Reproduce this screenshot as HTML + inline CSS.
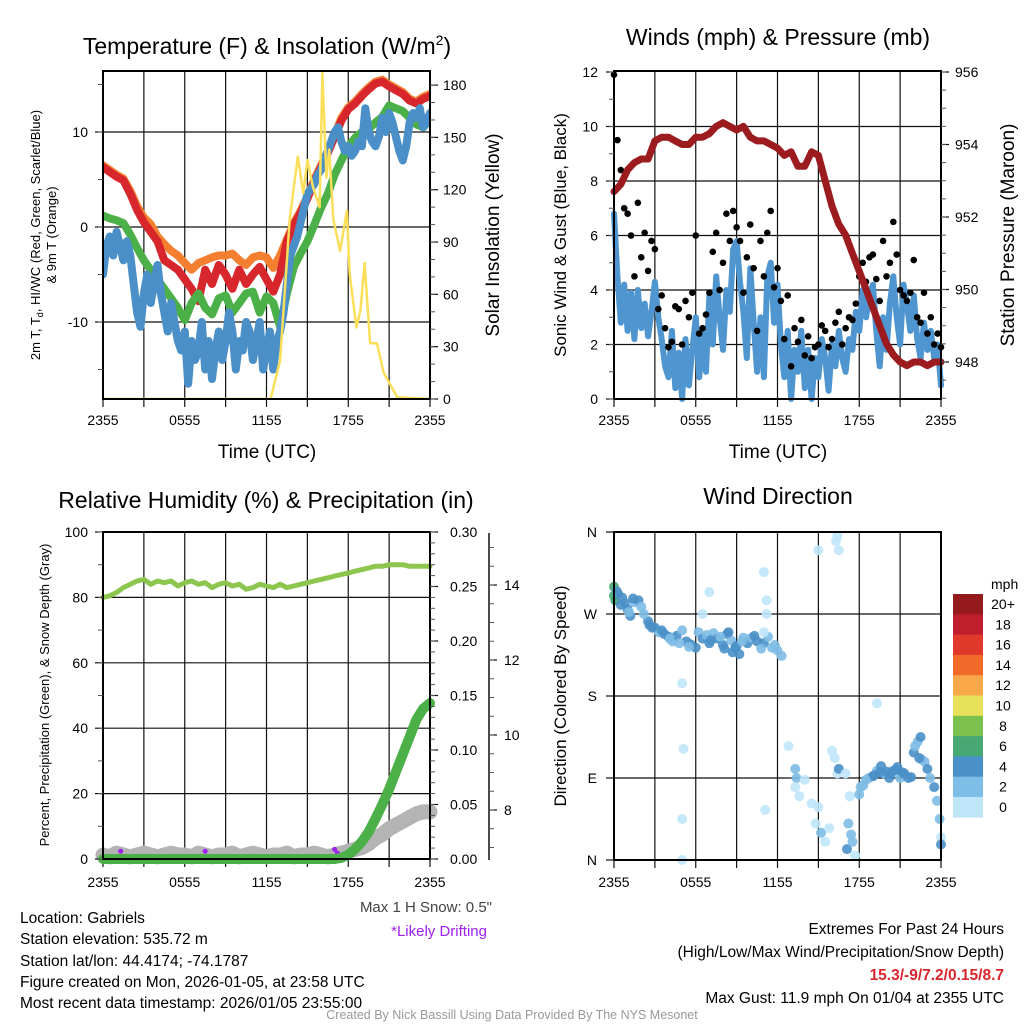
<!DOCTYPE html>
<html><head><meta charset="utf-8"><style>
html,body{margin:0;padding:0;background:#fff;}
svg{display:block;font-family:"Liberation Sans",Arial,sans-serif;}
</style></head><body>
<svg id="chart" width="1024" height="1024" viewBox="0 0 1024 1024">
<rect x="0" y="0" width="1024" height="1024" fill="#fff"/>
<text x="267" y="54" font-size="23" text-anchor="middle">Temperature (F) &amp; Insolation (W/m<tspan dy="-9" font-size="14">2</tspan><tspan dy="9">)</tspan></text>
<text x="778" y="45" font-size="23" text-anchor="middle">Winds (mph) &amp; Pressure (mb)</text>
<text x="266" y="508" font-size="23" text-anchor="middle">Relative Humidity (%) &amp; Precipitation (in)</text>
<text x="778" y="504" font-size="23" text-anchor="middle">Wind Direction</text>
<text x="267" y="458" font-size="19" text-anchor="middle">Time (UTC)</text>
<text x="778" y="458" font-size="19" text-anchor="middle">Time (UTC)</text>
<text transform="translate(40,235) rotate(-90)" font-size="13" text-anchor="middle">2m T, T<tspan dy="3" font-size="9">d</tspan><tspan dy="-3">, HI/WC (Red, Green, Scarlet/Blue)</tspan></text>
<text transform="translate(56,235) rotate(-90)" font-size="13" text-anchor="middle">&amp; 9m T (Orange)</text>
<text transform="translate(499,235) rotate(-90)" font-size="19" text-anchor="middle">Solar Insolation (Yellow)</text>
<text transform="translate(566,235) rotate(-90)" font-size="17" text-anchor="middle">Sonic Wind &amp; Gust (Blue, Black)</text>
<text transform="translate(1014,235) rotate(-90)" font-size="19" text-anchor="middle">Station Pressure (Maroon)</text>
<text transform="translate(49,695) rotate(-90)" font-size="13" text-anchor="middle">Percent, Precipitation (Green), &amp; Snow Depth (Gray)</text>
<text transform="translate(566,696) rotate(-90)" font-size="17" text-anchor="middle">Direction (Colored By Speed)</text>
<text x="492" y="912" font-size="15" fill="#444" text-anchor="end">Max 1 H Snow: 0.5"</text>
<text x="487" y="936" font-size="15" fill="#a020f0" text-anchor="end">*Likely Drifting</text>
<g font-size="15.5">
<text x="20" y="923">Location: Gabriels</text>
<text x="20" y="944">Station elevation: 535.72 m</text>
<text x="20" y="966">Station lat/lon: 44.4174; -74.1787</text>
<text x="20" y="987">Figure created on Mon, 2026-01-05, at 23:58 UTC</text>
<text x="20" y="1008">Most recent data timestamp: 2026/01/05 23:55:00</text>
</g>
<g font-size="15.5" text-anchor="end">
<text x="1004" y="934">Extremes For Past 24 Hours</text>
<text x="1004" y="957">(High/Low/Max Wind/Precipitation/Snow Depth)</text>
<text x="1004" y="980" fill="#d7262c" font-weight="bold">15.3/-9/7.2/0.15/8.7</text>
<text x="1004" y="1003">Max Gust: 11.9 mph On 01/04 at 2355 UTC</text>
</g>
<text x="512" y="1019" font-size="12.5" fill="#999" text-anchor="middle">Created By Nick Bassill Using Data Provided By The NYS Mesonet</text>
</svg>
<script>
// ---------- data ----------
const xTickLabels = ["2355","0555","1155","1755","2355"];
const tempRed = [6.3,5.8,5.3,4.9,3.5,1.8,0.5,-0.5,-1.5,-3.5,-4.0,-4.5,-5.5,-6.5,-7.8,-4.5,-6,-4,-5,-6.5,-4.5,-6,-5,-4.2,-5.5,-6.8,-5,-1.5,0.2,1.5,3,4.8,6.3,7.8,9.5,11.2,12.4,13,13.8,14.5,15.1,15.3,14.8,14.4,14,13.3,13.0,13.5,13.8];
const temp9m = [6.5,6.0,5.5,5.1,3.8,2.2,1.0,0.3,-1.0,-1.8,-2.5,-3.0,-3.8,-4.5,-3.8,-3.5,-3.2,-3.0,-3.0,-2.8,-3.5,-4.0,-3.2,-3.0,-3.2,-4.3,-3.0,-1.3,0.4,1.7,3.2,5.0,6.5,8.0,9.7,11.5,12.6,13.2,14.0,14.7,15.3,15.5,15.0,14.6,14.2,13.5,13.2,13.7,14.0];
const dewpoint = [1.2,0.9,0.7,0.4,-0.8,-2.2,-3.5,-4.5,-5.5,-6.5,-7.5,-8.5,-9.8,-8,-7,-8.5,-9.2,-7.5,-7.2,-9,-8,-7,-6.8,-9,-7.3,-8,-10.5,-7,-4.2,-2.8,-1.5,0.2,2.0,3.5,5.5,7.0,8.5,9.4,10.0,10.3,11.0,11.6,12.8,12.5,12.2,11.5,10.8,10.5,11.3];
const windChill = [-5,-2,-1,-3,-0.5,-2,-3.5,-1.5,-3,-6,-9,-10.5,-7,-5,-8,-6,-4,-7,-9,-11,-8,-10,-12,-13,-11,-16.5,-12,-14,-13,-10,-15,-12,-16,-13,-11,-14,-12,-9,-11,-15,-12,-13,-10,-11,-14,-12,-10,-15,-13,-11,-15,-12,-11,-9,-6,-3,-2,-1,0.5,2,3.5,4,4.5,5.5,6,7,8,9,10,10.5,9,8,8.5,7.5,8,9,8.5,12.5,10,9,8.5,9.5,11.5,10,12,11,9.5,8,7,8.5,11,12,11.5,12.5,10.5,11,12];
const solarHours = [0,12.3,13.0,13.7,14.3,14.7,15.0,15.4,15.9,16.1,16.4,16.6,16.9,17.4,17.9,18.1,18.6,18.9,19.2,19.6,20.1,20.6,21.6,24];
const solarValues = [0,0,22,103,139,118,137,122,110,187,127,143,103,85,108,72,41,51,78,32,32,15,1,0];
const windSpeed = [6.8,4.5,2.8,4.2,2.5,3.9,2.2,4.0,2.6,3.5,2.3,3.2,4.3,3.0,2.2,1.2,0.8,2.5,0.4,1.7,0,2.2,0.5,1.8,3.0,0.8,2.4,1.0,3.8,2.0,4.5,3.0,1.8,4.0,3.2,5.5,5.8,4.3,3.2,1.5,4.8,2.8,1.0,3.0,0.8,4.5,5.0,2.8,4.2,2.0,0.8,2.5,0,1.8,1.0,2.5,0.4,1.8,0,1.5,0.8,2.2,1.5,0.3,2.0,1.2,2.5,1.5,1.0,2.2,1.8,3.2,2.5,4.0,3.0,3.8,4.2,2.5,1.2,3.0,1.8,3.5,4.5,3.0,2.0,4.2,3.5,2.5,3.8,2.2,1.5,2.8,1.8,2.5,1.5,2.0,0.5];
const windGust = [11.9,9.5,8.4,7.0,6.8,6.0,4.5,7.2,5.2,6.1,4.7,5.8,5.5,3.3,3.8,2.6,1.9,2.1,3.4,3.3,2.0,3.6,3.0,3.9,6.0,2.4,2.6,3.1,3.9,5.4,6.1,4.0,5.0,6.8,5.8,6.9,6.3,5.8,3.9,5.2,6.4,4.8,2.5,5.8,4.5,6.1,6.9,4.1,4.8,3.6,2.2,3.8,1.2,2.6,2.1,2.9,1.6,2.3,1.5,1.9,2.0,2.7,2.5,1.9,2.2,2.8,3.2,2.0,2.6,3.0,2.9,3.5,4.5,5.0,4.3,5.2,5.3,4.4,3.6,5.8,4.5,5.0,6.5,5.3,4.0,3.8,3.6,3.9,5.1,3.0,2.8,3.9,2.4,3.0,2.0,2.4,1.9];
const pressure = [952.7,952.9,953.3,953.5,953.6,953.6,954.1,954.2,954.2,954.1,954.0,954.0,954.2,954.2,954.3,954.5,954.6,954.5,954.4,954.5,954.2,954.1,954.1,954.0,953.9,953.7,953.8,953.4,953.4,953.8,953.7,953.0,952.3,951.8,951.5,951.0,950.5,950.0,949.5,949.0,948.5,948.2,948.0,947.9,948.0,948.0,947.9,948.0,948.0];
const humidity = [80,80.5,81.5,83,84,85,85.5,84,85,84.5,85,83.5,84.5,85,84,84.5,83,84,84.5,83.5,84,82.5,83,84,83.5,83,84,83,83.5,84,84.5,85,85.5,86,86.5,87,87.5,88,88.5,89,89.5,89.5,90,90,90,89.5,89.5,89.5,89.5];
const precip = [0,0,0,0,0,0,0,0,0,0,0,0,0,0,0,0,0,0,0,0,0,0,0,0,0,0,0,0,0,0,0,0,0,0,0,0.001,0.004,0.009,0.016,0.025,0.037,0.05,0.064,0.08,0.096,0.112,0.128,0.138,0.143];
const snowDepth = [6.8,6.75,6.85,6.8,6.75,6.8,6.85,6.8,6.75,6.8,6.85,6.8,6.8,6.75,6.85,6.8,6.75,6.8,6.8,6.85,6.75,6.8,6.85,6.8,6.75,6.8,6.8,6.85,6.75,6.8,6.8,6.85,6.8,6.75,6.8,6.85,6.9,6.95,7.0,7.1,7.25,7.35,7.5,7.6,7.7,7.8,7.9,7.95,7.95];
const driftHours = [1.3,7.5,17.0,17.2];
const driftValues = [6.9,6.9,6.95,6.85];
const dirHours = [0,0,0.1,0.3,0.5,0.8,1,1.2,1.5,1.8,2,2.5,2.6,3,3.3,3.7,4,4.3,4.6,5,5.3,5.6,6,6.2,6.5,7,7.3,7.6,8,8.3,8.6,8.9,9.2,9.5,9.8,10.1,10.5,11,11.3,11.6,12,12.3,11,5,5.1,5,5,7,6.5,11,11.2,11.2,11.1,15,16.3,16.4,16.5,19.3,12.8,13.3,13.4,13.3,13.6,14,14.5,14.8,15,15.2,15.5,15.8,16,16.2,16.4,16.5,17,17.3,17.2,17.4,17.1,17.5,17.7,18,18.3,18.7,19,19.3,19.6,19.8,20.2,20.5,20.8,21,21.3,21.6,22,22.3,22.5,22.6,22.8,23,23.2,23.5,23.7,23.9,24,24,0.2,0.6,1.1,1.4,2.2,2.8,3.5,4.1,4.8,5.5,6.8,7.1,7.8,8.1,8.4,8.7,9.0,9.4,10.3,10.8,11.8,18.1,18.5,19.1,19.5,20,20.3,20.7,21.2,21.8,22.1,22.4];
const dirValues = [300,290,285,292,280,282,275,268,283,285,278,262,258,255,250,248,245,240,246,252,240,237,233,250,243,238,249,243,236,248,241,233,226,244,238,244,240,238,245,233,230,224,250,194,122,45,0,294,270,316,285,270,55,340,350,356,340,172,125,100,90,80,70,88,62,40,58,30,20,35,120,112,95,100,95,70,40,28,12,20,5,72,82,90,92,98,103,95,90,98,102,90,95,90,118,130,135,110,108,100,90,80,65,45,25,17,295,288,272,287,270,255,252,243,238,234,247,241,245,232,250,228,235,240,246,232,236,80,88,93,96,97,94,99,96,91,125,112];
const dirSpeeds = [7,6,7,5,4,5,4,5,3,4,3,5,4,5,3,4,5,3,4,3,5,4,5,3,4,5,3,4,5,4,3,5,5,3,4,3,5,4,3,3,2,2,1,1,1,1,1,1,1,1,1,1,1,1,1,1,1,1,1,3,3,1,1,1,1,1,1,3,1,1,1,1,1,4,1,1,3,3,4,3,1,3,3,3,4,3,4,3,5,4,5,3,5,4,5,3,4,3,2,4,3,4,3,2,1,4,5,4,3,4,3,4,5,3,2,2,3,4,3,4,5,4,5,3,4,3,2,3,3,4,4,5,5,4,5,4,3,4];
const colorbarLabels = ["20+","18","16","14","12","10","8","6","4","2","0"];
const colorbarColors = ["#941a1d","#bf1e2d","#e0382b","#f26a2a","#f9a94a","#e8e25a","#7cc04e","#47a873","#4a90c8","#7ebde6","#bfe5f9"];

// ---------- scales ----------
const NS = "http://www.w3.org/2000/svg";
const svg = document.getElementById("chart");
function mk(tag, attrs, parent){const e=document.createElementNS(NS,tag);for(const k in attrs)e.setAttribute(k,attrs[k]);(parent||svg).appendChild(e);return e;}
const L1=103,L2=614,W=327;
const xA=h=>L1+h*W/24, xB=h=>L2+h*W/24;
const yT=t=>227-t*9.5, ySol=w=>399-w*1.744;
const yW=s=>399-s*27.25, yP=p=>72+(956-p)*36.25;
const yRH=r=>859-r*3.27, yPr=v=>859-v*1090, ySn=s=>810-(s-8)*37.5;
const yD=d=>860-d*328/360;
const idxH=(i,n)=>i*24/(n-1);

// ---------- frames/grids ----------
function panel(name,x0,y0,y1,hgrid){
  const g=mk("g",{});
  
  
  for(let k=1;k<8;k++){const x=x0+k*W/8;const l=mk("line",{x1:x,x2:x,y1:y0,y2:y1,stroke:"#111","stroke-width":1.2},g);
    
    }
  hgrid.forEach(y=>{const l=mk("line",{x1:x0,x2:x0+W,y1:y,y2:y,stroke:"#111","stroke-width":1.2},g);
    
    });
  for(let k=0;k<=8;k++){const x=x0+k*W/8;const t=mk("line",{x1:x,x2:x,y1:y1,y2:y1+8,stroke:"#111","stroke-width":1.2},g);
    
    }
  return g;
}
function frame(name,x0,y0,y1){const r=mk("rect",{x:x0,y:y0,width:W,height:y1-y0,fill:"none",stroke:"#000","stroke-width":2});
  
  }
function xLabels(fx,y){xTickLabels.forEach((s,i)=>{const t=mk("text",{x:fx(i*6),y:y,"font-size":14,"text-anchor":"middle"});t.textContent=s;
  
  });}
function yAxis(vals,fy,x,side,fmt,minor,labelX,y0,y1){
  vals.forEach(v=>{const y=fy(v);const t=mk("line",{x1:x,x2:x+side*8,y1:y,y2:y,stroke:"#111","stroke-width":1.2});
    
    
    const tx=mk("text",{x:labelX,y:y+5,"font-size":14,"text-anchor":side<0?"end":"start"});tx.textContent=fmt(v);
    
    });
  minor.forEach(v=>{const y=fy(v);if(y<y0-0.5||y>y1+0.5)return;const t=mk("line",{x1:x,x2:x+side*5,y1:y,y2:y,stroke:"#555","stroke-width":1});
    
    });
}
function range(a,b,s){const r=[];for(let v=a;v<=b+1e-9;v+=s)r.push(+v.toFixed(4));return r;}
function path(pts,attrs,name){const p=mk("path",Object.assign({d:"M"+pts.map(q=>q[0].toFixed(1)+","+q[1].toFixed(1)).join("L"),fill:"none","stroke-linejoin":"round","stroke-linecap":"round"},attrs));
  
  return p;}
function clipRect(id,x,y,w,h){const c=mk("clipPath",{id:id});mk("rect",{x:x,y:y,width:w,height:h},c);}

// ---------- panel 1 ----------
panel("temperature",L1,71,399,[yT(10),yT(0),yT(-10)]);
clipRect("c1",L1,71,W,328);
const g1=mk("g",{"clip-path":"url(#c1)"});


[[temp9m,"#f47f30","nine-meter-temp-line"],[tempRed,"#d7262c","two-meter-temp-line"],[dewpoint,"#4bb048","dewpoint-line"],[windChill,"#4a8fc8","wind-chill-line"]].forEach(s=>{
  const p=path(s[0].map((v,i)=>[xA(idxH(i,s[0].length)),yT(v)]),{stroke:s[1],"stroke-width":8},s[2]);g1.appendChild(p);});
const sol=path(solarHours.map((h,i)=>[xA(h),ySol(solarValues[i])]),{stroke:"#fbdf5b","stroke-width":2.5},"solar-insolation-line");g1.appendChild(sol);
frame("temperature",L1,71,399);
yAxis([-10,0,10],yT,L1,-1,v=>v,range(-15,15,5),88,71,399);
yAxis(range(0,180,30),ySol,430,1,v=>v,range(0,180,10),443,71,399);
xLabels(xA,425);

// ---------- panel 2 ----------
panel("winds",L2,71,399,range(2,10,2).map(yW));
clipRect("c2",L2-4,66,W+8,338);
const g2=mk("g",{"clip-path":"url(#c2)"});


g2.appendChild(path(windSpeed.map((v,i)=>[xB(idxH(i,windSpeed.length)),yW(v)]),{stroke:"#4f95cf","stroke-width":6},"sonic-wind-line"));
windGust.forEach((v,i)=>{const c=mk("circle",{cx:xB(idxH(i,windGust.length)),cy:yW(v),r:3.3,fill:"#000"},g2);
  
  });
g2.appendChild(path(pressure.map((v,i)=>[xB(idxH(i,pressure.length)),yP(v)]),{stroke:"#9b1b1e","stroke-width":7},"pressure-line"));
frame("winds",L2,71,399);
yAxis(range(0,12,2),yW,L2,-1,v=>v,range(0,12,1),598,71,399);
yAxis(range(948,956,2),yP,941,1,v=>v,range(946.5,956,0.5),955,71,399);
xLabels(xB,425);

// ---------- panel 3 ----------
panel("humidity",L1,532,859,range(20,80,20).map(yRH));
clipRect("c3",L1-12,525,W+24,345);
const g3=mk("g",{"clip-path":"url(#c3)"});


g3.appendChild(path(snowDepth.map((v,i)=>[xA(idxH(i,snowDepth.length)),ySn(v)]),{stroke:"#b4b4b4","stroke-width":15},"snow-depth-line"));
driftHours.forEach((h,i)=>{const c=mk("circle",{cx:xA(h),cy:ySn(driftValues[i]),r:2.5,fill:"#a020f0"},g3);
  
  });
g3.appendChild(path(precip.map((v,i)=>[xA(idxH(i,precip.length)),yPr(v)]),{stroke:"#4bb048","stroke-width":10},"precipitation-line"));
g3.appendChild(path(humidity.map((v,i)=>[xA(idxH(i,humidity.length)),yRH(v)]),{stroke:"#8dc64f","stroke-width":5},"relative-humidity-line"));
frame("humidity",L1,532,859);
yAxis(range(0,100,20),yRH,L1,-1,v=>v,range(0,100,10),88,532,859);
yAxis(range(0,0.30,0.05),yPr,430,1,v=>v.toFixed(2),range(0,0.30,0.01),450,532,859);
const ax=mk("line",{x1:489,x2:489,y1:533,y2:860,stroke:"#111","stroke-width":1.5});


yAxis(range(8,14,2),ySn,489,1,v=>v,range(6.5,15,0.5),504,533,860);
xLabels(xA,887);

// ---------- panel 4 ----------
panel("direction",L2,532,860,[yD(90),yD(180),yD(270)]);
const g4=mk("g",{});


function spdColor(s){const bin=Math.min(10,Math.floor(s/2));return colorbarColors[10-bin];}
dirHours.forEach((h,i)=>{const c=mk("circle",{cx:xB(h),cy:yD(dirValues[i]),r:5,fill:spdColor(dirSpeeds[i]),"fill-opacity":0.9},g4);
  
  });
frame("direction",L2,532,860);
["N","E","S","W","N"].forEach((s,i)=>{const y=yD(i*90);
  const t=mk("line",{x1:L2,x2:L2-8,y1:y,y2:y,stroke:"#111","stroke-width":1.2});
  
  
  const tx=mk("text",{x:597,y:y+5,"font-size":14,"text-anchor":"end"});tx.textContent=s;
  
  });
xLabels(xB,887);
// colorbar
const cb=mk("g",{});


const cbt=mk("text",{x:991,y:589,"font-size":14},cb);cbt.textContent="mph";


colorbarLabels.forEach((s,i)=>{const y=594+i*20.3;
  const r=mk("rect",{x:953,y:y,width:30,height:20.6,fill:colorbarColors[i]},cb);
  
  
  const t=mk("text",{x:1003,y:y+15,"font-size":14,"text-anchor":"middle"},cb);t.textContent=s;
  
  });
</script>
</body></html>
